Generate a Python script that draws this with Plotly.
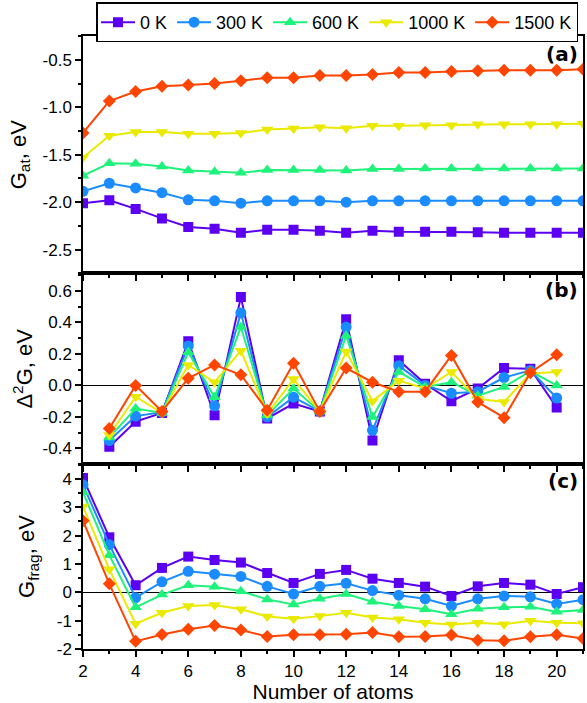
import plotly.graph_objects as go

# ---------------- data ----------------
temps = ["0 K", "300 K", "600 K", "1000 K", "1500 K"]
colors = ["#5b00f0", "#1a8cff", "#1ef27a", "#eaea00", "#ff4500"]
symbols = ["square", "circle", "triangle-up", "triangle-down", "diamond"]
msizes = [10, 11, 11, 11, 10]

n_a = list(range(2, 22))
g_at_0 = [-2.01, -1.98, -2.07, -2.17, -2.26, -2.28, -2.32, -2.29, -2.29, -2.30,
          -2.32, -2.30, -2.31, -2.31, -2.31, -2.315, -2.32, -2.32, -2.32, -2.32]
g_at_300 = [-1.885, -1.80, -1.85, -1.90, -1.975, -1.985, -2.01, -1.985, -1.985, -1.985,
            -2.0, -1.985, -1.985, -1.985, -1.985, -1.985, -1.985, -1.985, -1.985, -1.985]
g_at_600 = [-1.72, -1.59, -1.595, -1.625, -1.665, -1.68, -1.69, -1.66, -1.66, -1.66,
            -1.665, -1.65, -1.65, -1.645, -1.645, -1.645, -1.645, -1.645, -1.645, -1.645]
g_at_1000 = [-1.53, -1.30, -1.26, -1.26, -1.28, -1.28, -1.27, -1.235, -1.225, -1.21,
             -1.22, -1.195, -1.195, -1.19, -1.19, -1.18, -1.18, -1.18, -1.18, -1.175]
g_at_1500 = [-1.27, -0.935, -0.835, -0.78, -0.765, -0.75, -0.72, -0.69, -0.69, -0.665,
             -0.665, -0.655, -0.635, -0.635, -0.625, -0.617, -0.61, -0.61, -0.61, -0.60]

n_b = list(range(3, 21))
d2g_0 = [-0.39, -0.23, -0.175, 0.28, -0.19, 0.56, -0.21, -0.115, -0.165, 0.42,
         -0.35, 0.16, 0.01, -0.10, -0.02, 0.11, 0.105, -0.14]
d2g_300 = [-0.35, -0.195, -0.17, 0.25, -0.13, 0.46, -0.20, -0.075, -0.165, 0.37,
           -0.285, 0.125, 0.0, -0.05, -0.04, 0.05, 0.095, -0.08]
d2g_600 = [-0.33, -0.147, -0.175, 0.21, -0.075, 0.37, -0.19, -0.02, -0.165, 0.315,
           -0.20, 0.085, -0.01, 0.02, -0.065, -0.01, 0.09, 0.0]
d2g_1000 = [-0.315, -0.072, -0.175, 0.13, 0.02, 0.22, -0.18, 0.04, -0.165, 0.215,
            -0.10, 0.03, -0.02, 0.085, -0.085, -0.105, 0.075, 0.085]
d2g_1500 = [-0.273, 0.0, -0.165, 0.045, 0.13, 0.067, -0.158, 0.14, -0.165, 0.11,
            0.02, -0.04, -0.04, 0.19, -0.105, -0.205, 0.08, 0.195]

n_c = list(range(2, 22))
gf_0 = [4.03, 1.94, 0.25, 0.86, 1.26, 1.14, 1.05, 0.68, 0.33, 0.65,
        0.79, 0.48, 0.33, 0.20, -0.13, 0.21, 0.33, 0.27, -0.06, 0.18]
gf_300 = [3.79, 1.68, -0.19, 0.37, 0.74, 0.64, 0.56, 0.21, -0.06, 0.21,
          0.32, 0.06, -0.10, -0.23, -0.48, -0.23, -0.13, -0.16, -0.41, -0.26]
gf_600 = [3.53, 1.31, -0.53, -0.08, 0.25, 0.20, 0.04, -0.25, -0.43, -0.23,
          -0.06, -0.33, -0.48, -0.60, -0.77, -0.58, -0.53, -0.51, -0.69, -0.62]
gf_1000 = [3.03, 0.81, -1.11, -0.72, -0.48, -0.45, -0.60, -0.85, -0.93, -0.84,
           -0.72, -0.89, -0.95, -1.07, -1.14, -1.07, -1.13, -1.00, -1.07, -1.09]
gf_1500 = [2.52, 0.30, -1.73, -1.49, -1.30, -1.17, -1.33, -1.56, -1.50, -1.50,
           -1.48, -1.42, -1.57, -1.56, -1.51, -1.69, -1.71, -1.57, -1.50, -1.63]

x_ticks = [2, 4, 6, 8, 10, 12, 14, 16, 18, 20]
x_ticktext = ["2", "4", "6", "8", "10", "12", "14", "16", "18", "20"]
ya_ticks = [-0.5, -1.0, -1.5, -2.0, -2.5]
ya_text = ["-0.5", "-1.0", "-1.5", "-2.0", "-2.5"]
yb_ticks = [0.6, 0.4, 0.2, 0.0, -0.2, -0.4]
yb_text = ["0.6", "0.4", "0.2", "0.0", "-0.2", "-0.4"]
yc_ticks = [4, 3, 2, 1, 0, -1, -2]
yc_text = ["4", "3", "2", "1", "0", "-1", "-2"]

panel_a = [g_at_0, g_at_300, g_at_600, g_at_1000, g_at_1500]
panel_b = [d2g_0, d2g_300, d2g_600, d2g_1000, d2g_1500]
panel_c = [gf_0, gf_300, gf_600, gf_1000, gf_1500]

# ---------------- figure ----------------
FONT = "Arial, Liberation Sans, sans-serif"
fig = go.Figure()

for i in range(5):
    common = dict(mode="lines+markers",
                  line=dict(color=colors[i], width=2),
                  marker=dict(symbol=symbols[i], size=msizes[i], color=colors[i]),
                  name=temps[i], legendgroup=temps[i])
    fig.add_trace(go.Scatter(x=n_a, y=panel_a[i], xaxis="x", yaxis="y", showlegend=True, **common))
    fig.add_trace(go.Scatter(x=n_b, y=panel_b[i], xaxis="x2", yaxis="y2", showlegend=False, **common))
    fig.add_trace(go.Scatter(x=n_c, y=panel_c[i], xaxis="x3", yaxis="y3", showlegend=False, **common))

dom_c = [0.0, 0.3015]
dom_b = [0.3015, 0.6126]
dom_a = [0.6126, 1.0]

axis_common = dict(showline=True, linecolor="black", linewidth=1.5, mirror=True,
                   ticks="outside", ticklen=6, tickwidth=1.5, tickcolor="black",
                   showgrid=False, tickfont=dict(family=FONT, size=17, color="black"))

xbase = dict(axis_common, range=[2, 21], tickmode="array", tickvals=x_ticks,
             ticktext=x_ticktext, zeroline=False,
             minor=dict(ticks="outside", ticklen=3, tickwidth=1.5, tickcolor="black",
                        tickmode="linear", tick0=2, dtick=1))

fig.update_layout(
    width=587, height=703,
    margin=dict(l=83, r=2, t=34, b=50),
    paper_bgcolor="white", plot_bgcolor="white",
    font=dict(family=FONT, size=17, color="black"),
    xaxis=dict(xbase, anchor="y", showticklabels=False),
    xaxis2=dict(xbase, anchor="y2", matches="x", showticklabels=False),
    xaxis3=dict(xbase, anchor="y3", matches="x",
                title=dict(text="Number of atoms", font=dict(family=FONT, size=21), standoff=5)),
    yaxis=dict(axis_common, domain=dom_a, anchor="x", range=[-2.75, -0.25],
               tickmode="array", tickvals=ya_ticks, ticktext=ya_text, zeroline=False,
               minor=dict(ticks="outside", ticklen=3, tickwidth=1.5, tickcolor="black",
                          tickmode="linear", tick0=-0.25, dtick=0.25),
               title=dict(text="G<sub>at</sub>, eV", font=dict(family=FONT, size=22), standoff=10)),
    yaxis2=dict(axis_common, domain=dom_b, anchor="x2", range=[-0.5, 0.71],
                tickmode="array", tickvals=yb_ticks, ticktext=yb_text,
                zeroline=True, zerolinecolor="black", zerolinewidth=1,
                minor=dict(ticks="outside", ticklen=3, tickwidth=1.5, tickcolor="black",
                           tickmode="linear", tick0=0, dtick=0.1),
                title=dict(text="Δ<sup>2</sup>G, eV", font=dict(family=FONT, size=22), standoff=4)),
    yaxis3=dict(axis_common, domain=dom_c, anchor="x3", range=[-2, 4.52],
                tickmode="array", tickvals=yc_ticks, ticktext=yc_text,
                zeroline=True, zerolinecolor="black", zerolinewidth=1,
                minor=dict(ticks="outside", ticklen=3, tickwidth=1.5, tickcolor="black",
                           tickmode="linear", tick0=0, dtick=0.5),
                title=dict(text="G<sub>frag</sub>, eV", font=dict(family=FONT, size=22), standoff=16)),
    legend=dict(orientation="h", x=0.026, y=0.9895, xanchor="left", yanchor="bottom",
                bgcolor="white", bordercolor="black", borderwidth=1.5,
                font=dict(family=FONT, size=18), tracegroupgap=0, itemwidth=34),
)

labels = [("(a)", "y domain"), ("(b)", "y2 domain"), ("(c)", "y3 domain")]
for txt, yref in labels:
    fig.add_annotation(text="<b>%s</b>" % txt, xref="x domain", yref=yref, x=0.993, y=0.985,
                       xanchor="right", yanchor="top", showarrow=False,
                       font=dict(family="DejaVu Sans", size=20, color="black"))

fig.write_html("out.html", config={"displayModeBar": False},
               post_script="document.body.style.margin='0';document.body.style.overflow='hidden';")
